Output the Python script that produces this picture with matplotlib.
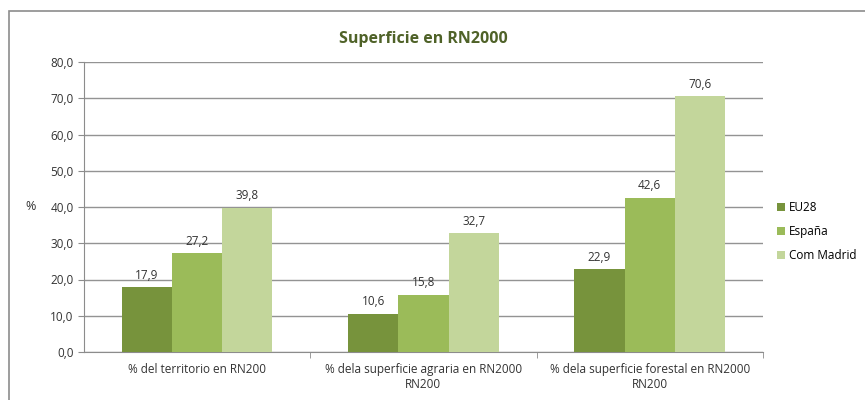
import matplotlib.pyplot as plt
import matplotlib.patches as mpatches
import numpy as np

plt.rcParams['font.family'] = ['Open Sans', 'DejaVu Sans']

# data
categorias = ["% del territorio en RN200",
              "% dela superficie agraria en RN2000\nRN200",
              "% dela superficie forestal en RN2000\nRN200"]
series = ["EU28", "España", "Com Madrid"]
eu28 = [17.9, 10.6, 22.9]
espana = [27.2, 15.8, 42.6]
madrid = [39.8, 32.7, 70.6]
colores = ["#77933C", "#9BBB59", "#C3D69B"]

fig = plt.figure(figsize=(8.65, 4), dpi=100)
ax = fig.add_axes([0.097, 0.12, 0.785, 0.725])

# marco de la figura
fig.patches.append(mpatches.Rectangle((9/865, -0.05), 1.0, 1.0 - 11/400 + 0.05,
                                      transform=fig.transFigure, fill=False,
                                      edgecolor="#8c8c8c", linewidth=1.2))

x = np.arange(len(categorias))
w = 0.222
for i, (vals, nom) in enumerate(zip([eu28, espana, madrid], series)):
    pos = x + (i - 1) * w
    ax.bar(pos, vals, width=w, color=colores[i], label=nom, zorder=3)
    for p, v in zip(pos, vals):
        ax.text(p, v + 1.5, f"{v:.1f}".replace(".", ","), ha="center", va="bottom",
                fontsize=8.5, color="#333333", zorder=4)

ax.set_xlim(-0.5, 2.5)
ax.set_ylim(0, 80)
ax.set_yticks(np.arange(0, 81, 10))
ax.set_yticklabels([f"{v:.1f}".replace(".", ",") for v in np.arange(0, 81, 10)],
                   fontsize=8.5, color="#333333")
ax.yaxis.grid(True, color="#939393", linewidth=1.0, zorder=0)
ax.set_xticks(x)
ax.set_xticklabels(categorias, fontsize=8.5, color="#333333")
ax.tick_params(axis="x", length=0, pad=8)
ax.set_xticks([0.5, 1.5, 2.5], minor=True)
ax.tick_params(axis="x", which="minor", length=4, color="#8c8c8c", direction="out")
ax.tick_params(axis="y", length=4, color="#8c8c8c", direction="out")
for s in ["top", "right"]:
    ax.spines[s].set_visible(False)
ax.spines["left"].set_color("#8c8c8c")
ax.spines["bottom"].set_color("#8c8c8c")
ax.set_ylabel("%", fontsize=9, rotation=0, color="#333333", labelpad=14, va="center")

ax.set_title("Superficie en RN2000", fontsize=11.5, fontweight="bold",
             color="#4F6228", pad=14)

ax.legend(loc="center left", bbox_to_anchor=(1.005, 0.415), frameon=False,
          fontsize=8.5, handlelength=0.7, handleheight=0.7, handletextpad=0.3,
          labelspacing=0.95)

fig.savefig("out.png", dpi=100)
